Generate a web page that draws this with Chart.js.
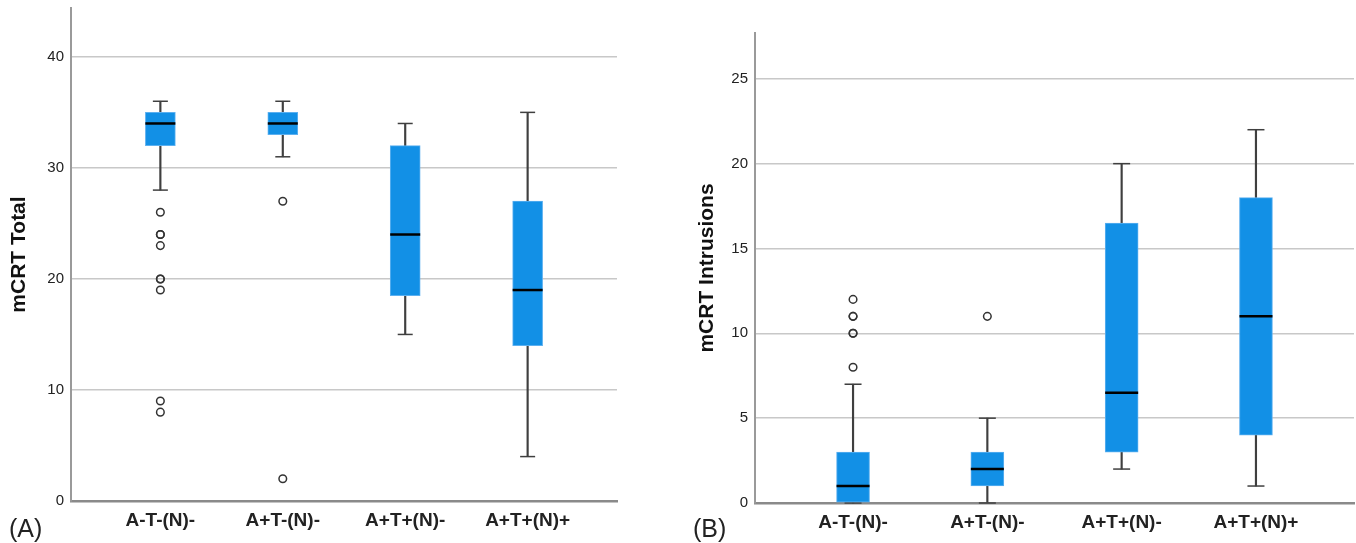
<!DOCTYPE html>
<html>
<head>
<meta charset="utf-8">
<script src="https://cdn.jsdelivr.net/npm/chart.js@4/dist/chart.umd.min.js"></script>
<style>
    body { margin: 0; background: #fff; width: 1356px; height: 543px; overflow: hidden; position: relative; font-family: "Liberation Sans", Arial, sans-serif; }
    canvas { position: absolute; top: 0; }
    .panel-tag { position: absolute; font-size: 25px; line-height: 25px; color: #222; }
</style>
</head>
<body>
<canvas id="chartA" width="680" height="543" style="left:0"></canvas>
<canvas id="chartB" width="676" height="543" style="left:680px"></canvas>
<div class="panel-tag" style="left:9px; top:516px">(A)</div>
<div class="panel-tag" style="left:693px; top:516px">(B)</div>
<script>
const categories = ['A-T-(N)-', 'A+T-(N)-', 'A+T+(N)-', 'A+T+(N)+'];

// panel A - mCRT Total
const totalLow = [28, 31, 15, 4];
const totalQ1 = [32, 33, 18.5, 14];
const totalMedian = [34, 34, 24, 19];
const totalQ3 = [35, 35, 32, 27];
const totalHigh = [36, 36, 34, 35];
const totalOutliers = [[26, 24, 24, 23, 20, 20, 19, 9, 8], [27, 2], [], []];
const totalTicks = [0, 10, 20, 30, 40];

// panel B - mCRT Intrusions
const intrLow = [0, 0, 2, 1];
const intrQ1 = [0, 1, 3, 4];
const intrMedian = [1, 2, 6.5, 11];
const intrQ3 = [3, 3, 16.5, 18];
const intrHigh = [7, 5, 20, 22];
const intrOutliers = [[12, 11, 11, 10, 10, 8], [11], [], []];
const intrTicks = [0, 5, 10, 15, 20, 25];

const BOX_COLOR = '#1290e6';
const WHISKER_COLOR = '#3f3f3f';

function makeBoxChart(id, s) {
    const idx = categories.map((c, i) => i);
    const ctx = document.getElementById(id).getContext('2d');
    return new Chart(ctx, {
        type: 'bar',
        data: {
            datasets: [
                {
                    type: 'scatter', order: 1, clip: false,
                    data: idx.map(i => ({ x: i, y: s.median[i] })),
                    pointStyle: 'line', radius: s.boxW / 2, borderColor: '#000', borderWidth: 2.5
                },
                {
                    type: 'scatter', order: 2, clip: false,
                    data: s.outliers.flatMap((vals, i) => vals.map(v => ({ x: i, y: v }))),
                    pointStyle: 'circle', radius: 3.8, borderWidth: 1.5,
                    borderColor: '#333', backgroundColor: 'rgba(255,255,255,0)'
                },
                {
                    type: 'bar', order: 3, grouped: false, clip: false,
                    data: idx.map(i => ({ x: i, y: [s.q1[i], s.q3[i]] })),
                    barThickness: s.boxW, backgroundColor: BOX_COLOR,
                    borderColor: '#5cb0f0', borderWidth: 1, borderSkipped: false
                },
                {
                    type: 'bar', order: 4, grouped: false, clip: false,
                    data: idx.map(i => ({ x: i, y: [s.q3[i], s.high[i]] }))
                        .concat(idx.map(i => ({ x: i, y: [s.low[i], s.q1[i]] }))),
                    barThickness: 1.5, backgroundColor: WHISKER_COLOR
                },
                {
                    type: 'scatter', order: 4, clip: false,
                    data: idx.map(i => ({ x: i, y: s.high[i] }))
                        .concat(idx.map(i => ({ x: i, y: s.low[i] }))),
                    pointStyle: 'line', radius: s.capW / 2, borderColor: WHISKER_COLOR, borderWidth: 1.5
                }
            ]
        },
        options: {
            responsive: false,
            animation: false,
            events: [],
            layout: { autoPadding: false, padding: { top: s.top, right: s.right, left: 0, bottom: 0 } },
            plugins: { legend: { display: false }, tooltip: { enabled: false } },
            scales: {
                x: {
                    type: 'linear',
                    min: -0.73,
                    max: 3.73,
                    offset: false,
                    afterBuildTicks: scale => { scale.ticks = idx.map(i => ({ value: i })); },
                    afterFit: scale => {
                        scale.height = s.xH;
                        scale.paddingLeft = 0;
                        scale.paddingRight = 0;
                    },
                    grid: { display: false, offset: false },
                    border: { color: '#8a8a8a', width: 2.5 },
                    ticks: {
                        autoSkip: false, maxRotation: 0, padding: 0,
                        color: '#222',
                        font: { family: 'Liberation Sans', size: 19, weight: 'bold' },
                        callback: v => categories[v] ?? ''
                    }
                },
                y: {
                    min: 0,
                    max: s.max,
                    afterBuildTicks: scale => { scale.ticks = s.ticks.map(v => ({ value: v })); },
                    afterFit: scale => {
                        scale.width = s.yW;
                        scale.paddingTop = 0;
                        scale.paddingBottom = 0;
                    },
                    grid: {
                        drawTicks: false,
                        lineWidth: 1.5,
                        color: c => c.tick && c.tick.value === 0 ? 'rgba(0,0,0,0)' : '#c8c8c8'
                    },
                    border: { color: '#9a9a9a', width: 2 },
                    ticks: {
                        padding: 7, color: '#222',
                        font: { family: 'Liberation Sans', size: 15 }
                    },
                    title: {
                        display: true,
                        text: s.title,
                        color: '#111',
                        padding: { top: s.titlePad, bottom: 0 },
                        font: { family: 'Liberation Sans', size: 21, weight: 'bold' }
                    }
                }
            }
        }
    });
}

makeBoxChart('chartA', {
    low: totalLow, q1: totalQ1, median: totalMedian, q3: totalQ3, high: totalHigh,
    outliers: totalOutliers, ticks: totalTicks, max: 44.4,
    title: 'mCRT Total', titlePad: 7,
    boxW: 30, capW: 15, top: 8, right: 63, yW: 71, xH: 42
});

makeBoxChart('chartB', {
    low: intrLow, q1: intrQ1, median: intrMedian, q3: intrQ3, high: intrHigh,
    outliers: intrOutliers, ticks: intrTicks, max: 27.7,
    title: 'mCRT Intrusions', titlePad: 15,
    boxW: 33, capW: 17, top: 33, right: 2, yW: 75, xH: 40
});
</script>
</body>
</html>
